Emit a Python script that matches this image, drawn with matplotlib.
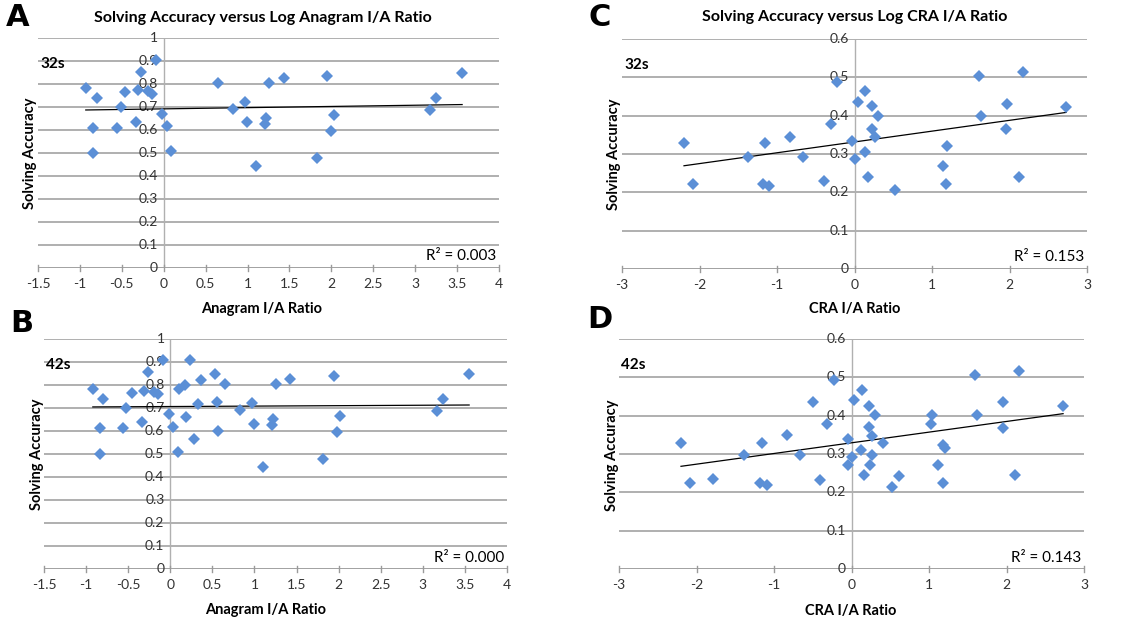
import numpy as np
import matplotlib
matplotlib.use("Agg")
import matplotlib.pyplot as plt

plt.rcParams['font.family'] = ['Lato', 'DejaVu Sans']

# --- data ---
# A: anagram, 32s
ana32_x = [-0.93, -0.80, -0.84, -0.84, -0.51, -0.46, -0.56, -0.33, -0.31, -0.27, -0.19,
           -0.14, -0.09, -0.02, 0.04, 0.09, 0.65, 0.83, 0.97, 0.99, 1.10, 1.22, 1.21,
           1.26, 1.43, 1.83, 1.95, 1.99, 2.03, 3.18, 3.25, 3.56]
ana32_y = [0.783, 0.739, 0.610, 0.500, 0.701, 0.764, 0.610, 0.636, 0.772, 0.852, 0.768,
           0.758, 0.904, 0.670, 0.619, 0.507, 0.803, 0.691, 0.722, 0.633, 0.445, 0.654, 0.628,
           0.803, 0.828, 0.480, 0.836, 0.594, 0.667, 0.688, 0.739, 0.849]

# B: anagram, 42s
ana42_x = [-0.92, -0.80, -0.84, -0.84, -0.52, -0.46, -0.56, -0.33, -0.31, -0.27, -0.19,
           -0.14, -0.09, -0.02, 0.03, 0.09, 0.10, 0.17, 0.23, 0.19, 0.28, 0.33, 0.36,
           0.53, 0.56, 0.57, 0.65, 0.83, 0.97, 0.99, 1.10, 1.22, 1.21, 1.25, 1.42,
           1.82, 1.94, 1.98, 2.02, 3.17, 3.24, 3.55]
ana42_y = [0.783, 0.741, 0.612, 0.501, 0.702, 0.765, 0.612, 0.640, 0.775, 0.855, 0.769,
           0.759, 0.907, 0.672, 0.619, 0.507, 0.781, 0.798, 0.910, 0.663, 0.564, 0.718, 0.820,
           0.850, 0.727, 0.599, 0.804, 0.692, 0.722, 0.632, 0.445, 0.654, 0.628, 0.804, 0.828,
           0.480, 0.837, 0.594, 0.666, 0.689, 0.740, 0.850]

# C: CRA, 32s
cra32_x = [-2.20, -2.08, -1.38, -1.16, -1.18, -1.10, -0.83, -0.66, -0.40, -0.30, -0.22,
           -0.03, 0.00, 0.04, 0.14, 0.13, 0.17, 0.22, 0.22, 0.27, 0.30, 0.52, 1.14,
           1.19, 1.18, 1.60, 1.63, 1.97, 1.95, 2.17, 2.12, 2.73]
cra32_y = [0.328, 0.222, 0.293, 0.328, 0.222, 0.217, 0.345, 0.293, 0.229, 0.377, 0.489,
           0.334, 0.288, 0.436, 0.464, 0.306, 0.240, 0.424, 0.365, 0.344, 0.398, 0.206, 0.268,
           0.321, 0.222, 0.504, 0.398, 0.431, 0.365, 0.515, 0.240, 0.423]

# D: CRA, 42s
cra42_x = [-2.20, -2.08, -1.79, -1.39, -1.16, -1.18, -1.09, -0.83, -0.66, -0.50, -0.41,
           -0.31, -0.23, -0.04, -0.05, 0.00, 0.03, 0.13, 0.12, 0.16, 0.22, 0.22, 0.24,
           0.26, 0.27, 0.30, 0.40, 0.52, 0.61, 1.02, 1.04, 1.12, 1.18, 1.21, 1.18,
           1.59, 1.62, 1.96, 1.95, 2.16, 2.11, 2.73]
cra42_y = [0.330, 0.224, 0.236, 0.297, 0.330, 0.224, 0.219, 0.350, 0.297, 0.435, 0.232,
           0.378, 0.492, 0.338, 0.271, 0.291, 0.441, 0.468, 0.311, 0.244, 0.426, 0.370, 0.271,
           0.348, 0.297, 0.401, 0.330, 0.214, 0.243, 0.378, 0.401, 0.271, 0.323, 0.315, 0.224,
           0.505, 0.401, 0.435, 0.369, 0.516, 0.244, 0.426]

r2_labels = ["R² = 0.003", "R² = 0.000", "R² = 0.153", "R² = 0.143"]
time_labels = ["32s", "42s", "32s", "42s"]
panel_letters = ["A", "B", "C", "D"]

BLUE = '#5b8fd6'
GRID = '#9a9a9a'

W, H = 1145, 621
fig = plt.figure(figsize=(W / 100, H / 100), dpi=100)


def px_axes(x0, x1, ytop, ybot):
    return fig.add_axes([x0 / W, 1 - ybot / H, (x1 - x0) / W, (ybot - ytop) / H])


def draw_panel(ax, xs, ys, xlim, xstep, ylim, ystep, xfmt, r2, tlabel):
    ax.set_xlim(*xlim)
    ax.set_ylim(*ylim)
    for s in ax.spines.values():
        s.set_visible(False)
    ax.set_xticks([])
    ax.set_yticks([])

    # horizontal gridlines, y=0 acts as the x axis
    yt = np.arange(ylim[0], ylim[1] + ystep / 2, ystep)
    for v in yt:
        ax.axhline(v, color=GRID, lw=1.1 if v > 0 else 1.3, zorder=1)
        lbl = "%g" % round(v, 1)
        ax.text(-0.025 * (xlim[1] - xlim[0]) * 0.5, v, lbl, ha='right', va='center',
                fontsize=10, color='#333333', zorder=2)
    # vertical axis at x = 0
    ax.axvline(0, color='#b0b0b0', lw=1.0, zorder=1)

    # x ticks along the bottom
    xt = np.arange(xlim[0], xlim[1] + xstep / 2, xstep)
    tl = 0.012 * (ylim[1] - ylim[0])
    for v in xt:
        ax.plot([v, v], [ylim[0] - tl, ylim[0] + tl], color=GRID, lw=1.0,
                clip_on=False, zorder=1)
        ax.text(v, ylim[0] - 0.045 * (ylim[1] - ylim[0]), xfmt % v, ha='center', va='top',
                fontsize=10, color='#333333')

    ax.plot(xs, ys, 'D', color=BLUE, markersize=6, markeredgewidth=0, zorder=4)

    # linear trendline across the data range
    k, b = np.polyfit(xs, ys, 1)
    lx = np.array([min(xs), max(xs)])
    ax.plot(lx, k * lx + b, color='black', lw=0.9, zorder=3)

    ax.text(0.995, 0.05, r2, transform=ax.transAxes, ha='right', va='center', fontsize=11)
    ax.text(0.005, 0.885, tlabel, transform=ax.transAxes, ha='left', va='center',
            fontsize=11, fontweight='bold')


ax_a = px_axes(38, 499, 38, 268)
draw_panel(ax_a, ana32_x, ana32_y, (-1.5, 4), 0.5, (0, 1), 0.1, "%g", r2_labels[0], time_labels[0])
ax_b = px_axes(44, 507, 339, 569)
draw_panel(ax_b, ana42_x, ana42_y, (-1.5, 4), 0.5, (0, 1), 0.1, "%g", r2_labels[1], time_labels[1])
ax_c = px_axes(622, 1087, 39, 269)
draw_panel(ax_c, cra32_x, cra32_y, (-3, 3), 1, (0, 0.6), 0.1, "%g", r2_labels[2], time_labels[2])
ax_d = px_axes(619, 1084, 339, 569)
draw_panel(ax_d, cra42_x, cra42_y, (-3, 3), 1, (0, 0.6), 0.1, "%g", r2_labels[3], time_labels[3])

# titles, axis labels, panel letters (figure pixel positions)
def ftext(x, y, s, **kw):
    fig.text(x / W, 1 - y / H, s, **kw)

ftext(263, 18, "Solving Accuracy versus Log Anagram I/A Ratio", ha='center', va='center',
      fontsize=11.5, fontweight='bold')
ftext(855, 17, "Solving Accuracy versus Log CRA I/A Ratio", ha='center', va='center',
      fontsize=11.5, fontweight='bold')

ftext(262, 309, "Anagram I/A Ratio", ha='center', va='center', fontsize=10.5, fontweight='bold')
ftext(266, 610, "Anagram I/A Ratio", ha='center', va='center', fontsize=10.5, fontweight='bold')
ftext(855, 309, "CRA I/A Ratio", ha='center', va='center', fontsize=10.5, fontweight='bold')
ftext(851, 611, "CRA I/A Ratio", ha='center', va='center', fontsize=10.5, fontweight='bold')

ftext(30, 153, "Solving Accuracy", ha='center', va='center', rotation=90, fontsize=10.5, fontweight='bold')
ftext(37, 454, "Solving Accuracy", ha='center', va='center', rotation=90, fontsize=10.5, fontweight='bold')
ftext(614, 154, "Solving Accuracy", ha='center', va='center', rotation=90, fontsize=10.5, fontweight='bold')
ftext(612, 455, "Solving Accuracy", ha='center', va='center', rotation=90, fontsize=10.5, fontweight='bold')

for (px, py), letter in zip([(18, 17), (22, 324), (600, 17), (600, 320)], panel_letters):
    ftext(px, py, letter, ha='center', va='center', fontsize=22, fontweight='black',
          family='DejaVu Sans')

fig.savefig("out.png", dpi=100)
